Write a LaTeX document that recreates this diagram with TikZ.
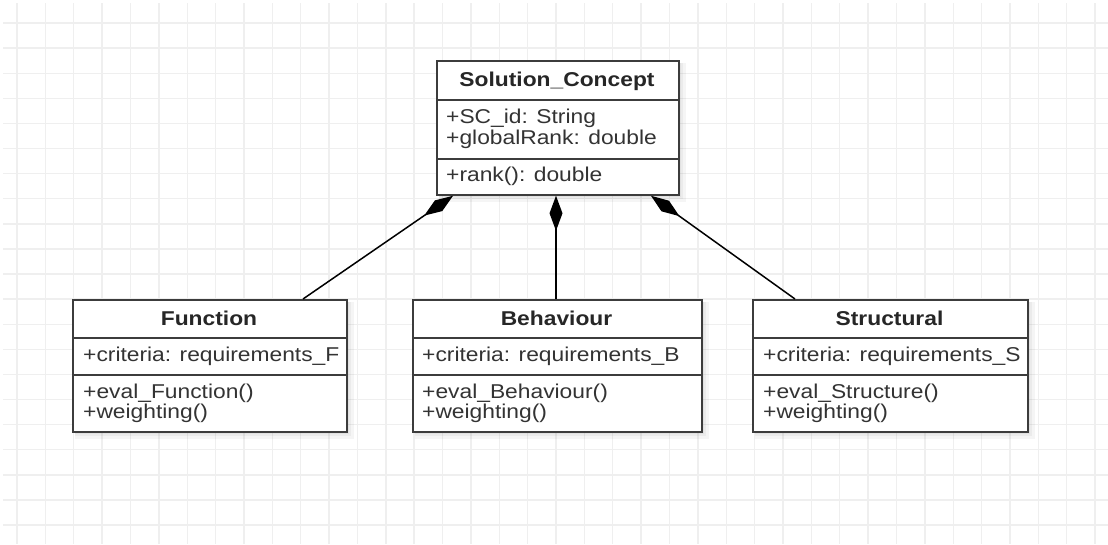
\documentclass[tikz,border=0pt]{standalone}
\usepackage{fontspec}
\usetikzlibrary{arrows.meta}
\newfontfamily\uml[FakeStretch=1.14]{Liberation Sans}
\definecolor{gridc}{HTML}{EFEFEF}
\definecolor{boxc}{HTML}{3C3C3C}
\tikzset{
  box/.style={draw=boxc, line width=1.8pt, fill=white, anchor=north west, inner sep=0pt},
  shade1/.style={fill=black, fill opacity=0.04, draw=none},
  divider/.style={draw=boxc, line width=1.6pt},
  ttl/.style={anchor=base, inner sep=0pt, font=\uml\fontsize{20}{24}\selectfont\bfseries, text=black!85},
  itm/.style={anchor=base west, inner sep=0pt, font=\uml\fontsize{20}{24}\selectfont, text=black!80},
  comp/.style={draw=black, line width=1.5pt, -{Diamond[length=35pt,width=13pt,fill=black]}},
  gridline/.style={draw=gridc, line width=1.4pt}
}
\begin{document}
\begin{tikzpicture}[x=1pt,y=-1pt]
\useasboundingbox (0,0) rectangle (1108,544);
\fill[white] (0,0) rectangle (1108,544);
% grid
\foreach \k in {0,...,38} { \draw[gridline] ({17+28.37*\k},3) -- ({17+28.37*\k},544); }
\foreach \k in {0,...,20} { \draw[gridline] (3,{23+25.1*\k}) -- (1108,{23+25.1*\k}); }
% shadows
\foreach \xa/\ya/\xb/\yb in {436/60/678/194, 72/299/346/431, 412/299/701/431, 752/299/1027/431} {
  \fill[shade1] (\xa+3,\ya+3) rectangle (\xb+8,\yb+8);
  \fill[shade1] (\xa+3,\ya+3) rectangle (\xb+5,\yb+5);
  \fill[shade1] (\xa+3,\ya+3) rectangle (\xb+3,\yb+3);
}
% Solution_Concept
\node[box, minimum width=242pt, minimum height=134pt] (sc) at (436,60) {};
\draw[divider] (sc.west |- 0,100) -- (sc.east |- 0,100);
\draw[divider] (sc.west |- 0,159) -- (sc.east |- 0,159);
\node[ttl] (sct) at (557,86) {Solution\_Concept};
\node[itm] (sca1) at (446,123) {+SC\_id: String};
\node[itm] (sca2) at (446,144) {+globalRank: double};
\node[itm] (scm1) at (446,181) {+rank(): double};
% Function
\node[box, minimum width=274pt, minimum height=132pt] (fn) at (72,299) {};
\draw[divider] (fn.west |- 0,338) -- (fn.east |- 0,338);
\draw[divider] (fn.west |- 0,375) -- (fn.east |- 0,375);
\node[ttl] (fnt) at (209,325) {Function};
\node[itm] (fna) at (83,361) {+criteria: requirements\_F};
\node[itm] (fnm1) at (83,398) {+eval\_Function()};
\node[itm] (fnm2) at (83,418) {+weighting()};
% Behaviour
\node[box, minimum width=289pt, minimum height=132pt] (bh) at (412,299) {};
\draw[divider] (bh.west |- 0,338) -- (bh.east |- 0,338);
\draw[divider] (bh.west |- 0,375) -- (bh.east |- 0,375);
\node[ttl] (bht) at (556.5,325) {Behaviour};
\node[itm] (bha) at (422,361) {+criteria: requirements\_B};
\node[itm] (bhm1) at (422,398) {+eval\_Behaviour()};
\node[itm] (bhm2) at (422,418) {+weighting()};
% Structural
\node[box, minimum width=275pt, minimum height=132pt] (st) at (752,299) {};
\draw[divider] (st.west |- 0,338) -- (st.east |- 0,338);
\draw[divider] (st.west |- 0,375) -- (st.east |- 0,375);
\node[ttl] (stt) at (889.5,325) {Structural};
\node[itm] (sta) at (763,361) {+criteria: requirements\_S};
\node[itm] (stm1) at (763,398) {+eval\_Structure()};
\node[itm] (stm2) at (763,418) {+weighting()};
% composition connectors
\draw[comp] (fn.north -| 303,0) -- (sc.south -| 453,0);
\draw[comp] (bh.north -| 556,0) -- (sc.south -| 556,0);
\draw[comp] (st.north -| 795,0) -- (sc.south -| 651,0);
\end{tikzpicture}
\end{document}
